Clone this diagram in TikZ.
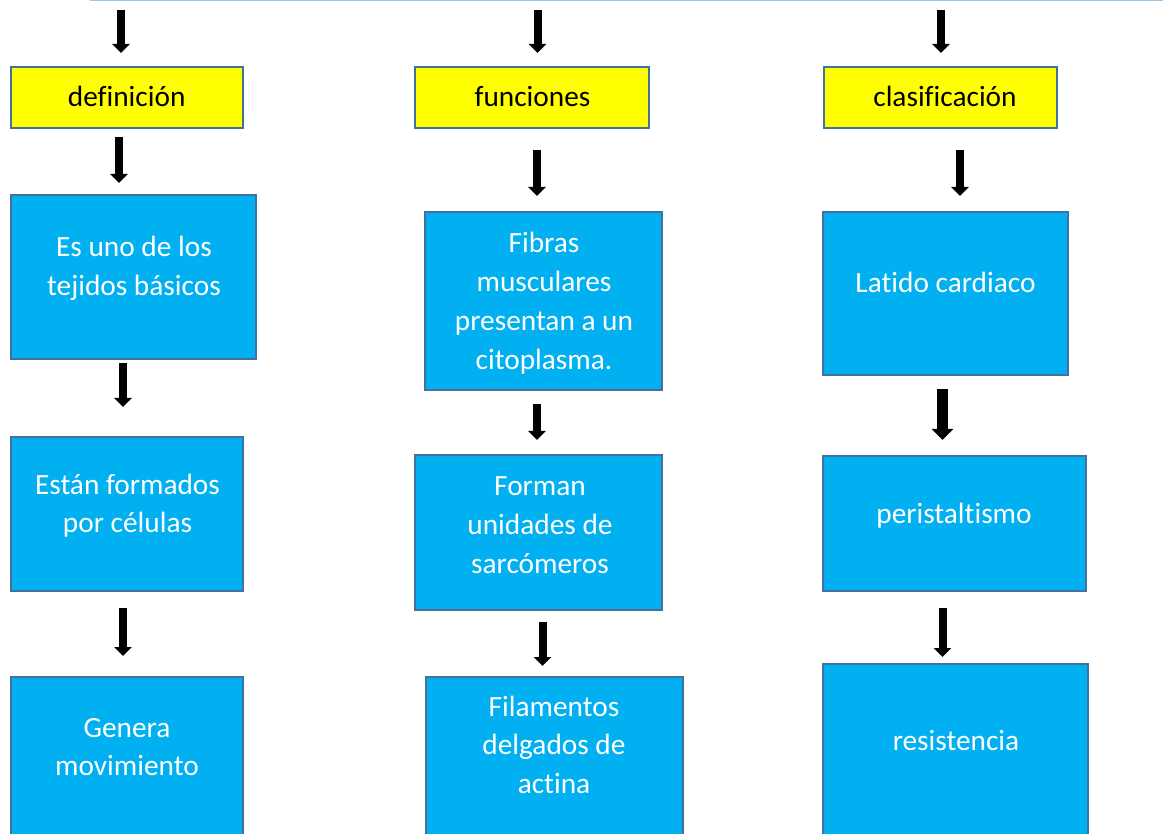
\documentclass[tikz,border=0pt]{standalone}
\usepackage{fontspec}
\setmainfont{Carlito}[Ligatures={NoCommon}]
\usetikzlibrary{arrows.meta}
\definecolor{boxedge}{HTML}{41719C}
\definecolor{boxblue}{HTML}{00B0F0}
\definecolor{boxyellow}{HTML}{FFFF00}
\definecolor{topline}{HTML}{9DC3E6}
\newcommand{\mltext}[1]{\begin{tabular}[t]{@{}c@{}}#1\end{tabular}}
\tikzset{
  ybox/.style={draw=boxedge, line width=2pt, fill=boxyellow, inner sep=0pt, outer sep=0pt},
  bbox/.style={draw=boxedge, line width=2pt, fill=boxblue, inner sep=0pt, outer sep=0pt},
  ytxt/.style={text=black, inner sep=0pt, anchor=base, font=\fontsize{29.33}{38.7}\selectfont},
  btxt/.style={text=white, inner sep=0pt, anchor=base, font=\fontsize{29.33}{38.7}\selectfont},
  downarrow/.style={line width=8pt, -{Triangle[width=17pt,length=9pt]}},
  bigdownarrow/.style={line width=11pt, -{Triangle[width=21pt,length=11pt]}}
}
\begin{document}
\begin{tikzpicture}[x=1pt,y=-1pt]
\useasboundingbox (0,0) rectangle (1163,834);
\clip (0,0) rectangle (1163,834);
\fill[white] (0,0) rectangle (1163,834);
% top line
\coordinate (tl1) at (90,0.75);
\coordinate (tl2) at (1163,0.75);
\draw[topline, line width=1.5pt] (tl1) -- (tl2);

% yellow headers
\node[ybox, minimum width=232, minimum height=61] (y1) at (127,97.5) {};
\node[ybox, minimum width=234, minimum height=61] (y2) at (532,97.5) {};
\node[ybox, minimum width=233, minimum height=61] (y3) at (940.5,97.5) {};
\node[ytxt] (yt1) at (126.7,107) {definición};
\node[ytxt] (yt2) at (532.5,107) {funciones};
\node[ytxt] (yt3) at (945,107) {clasificación};

% blue boxes
\node[bbox, minimum width=245, minimum height=164] (b11) at (133.5,277) {};
\node[bbox, minimum width=232, minimum height=154] (b12) at (127,514) {};
\node[bbox, minimum width=232, minimum height=183] (b13) at (127,768.5) {};
\node[bbox, minimum width=237, minimum height=178] (b21) at (543.5,301) {};
\node[bbox, minimum width=247, minimum height=155] (b22) at (538.5,532.5) {};
\node[bbox, minimum width=257, minimum height=183] (b23) at (554.5,768.5) {};
\node[bbox, minimum width=245, minimum height=163] (b31) at (945.5,293.5) {};
\node[bbox, minimum width=263, minimum height=135] (b32) at (954.5,523.5) {};
\node[bbox, minimum width=265, minimum height=196] (b33) at (955.5,762) {};

% texts
\node[btxt] (t11) at (134,257) {\mltext{Es uno de los\\tejidos básicos}};
\node[btxt] (t12) at (127.5,494) {\mltext{Están formados\\por células}};
\node[btxt] (t13) at (127,737) {\mltext{Genera\\movimiento}};
\node[btxt] (t21) at (544,253) {\mltext{Fibras\\musculares\\presentan a un\\citoplasma.}};
\node[btxt] (t22) at (540,496) {\mltext{Forman\\unidades de\\sarcómeros}};
\node[btxt] (t23) at (554,716) {\mltext{Filamentos\\delgados de\\actina}};
\node[btxt] (t31) at (945.5,293) {Latido cardiaco};
\node[btxt] (t32) at (954,523) {peristaltismo};
\node[btxt] (t33) at (956,750) {resistencia};

% arrows
\coordinate (a11s) at (121,10);   \coordinate (a11e) at (121,53);
\coordinate (a12s) at (119,137);  \coordinate (a12e) at (119,183);
\coordinate (a13s) at (123,363);  \coordinate (a13e) at (123,407);
\coordinate (a14s) at (123,608);  \coordinate (a14e) at (123,656);
\coordinate (a21s) at (537.5,10); \coordinate (a21e) at (537.5,53);
\coordinate (a22s) at (537,150);  \coordinate (a22e) at (537,196);
\coordinate (a23s) at (537,404);  \coordinate (a23e) at (537,440);
\coordinate (a24s) at (542.5,622);\coordinate (a24e) at (542.5,666);
\coordinate (a31s) at (941,10);   \coordinate (a31e) at (941,53);
\coordinate (a32s) at (960,150);  \coordinate (a32e) at (960,196);
\coordinate (a33s) at (942.5,389);\coordinate (a33e) at (942.5,440);
\coordinate (a34s) at (942.5,608);\coordinate (a34e) at (942.5,657);
\draw[downarrow] (a11s) -- (a11e);
\draw[downarrow] (a12s) -- (a12e);
\draw[downarrow] (a13s) -- (a13e);
\draw[downarrow] (a14s) -- (a14e);
\draw[downarrow] (a21s) -- (a21e);
\draw[downarrow] (a22s) -- (a22e);
\draw[downarrow] (a23s) -- (a23e);
\draw[downarrow] (a24s) -- (a24e);
\draw[downarrow] (a31s) -- (a31e);
\draw[downarrow] (a32s) -- (a32e);
\draw[bigdownarrow] (a33s) -- (a33e);
\draw[downarrow] (a34s) -- (a34e);
\end{tikzpicture}
\end{document}
